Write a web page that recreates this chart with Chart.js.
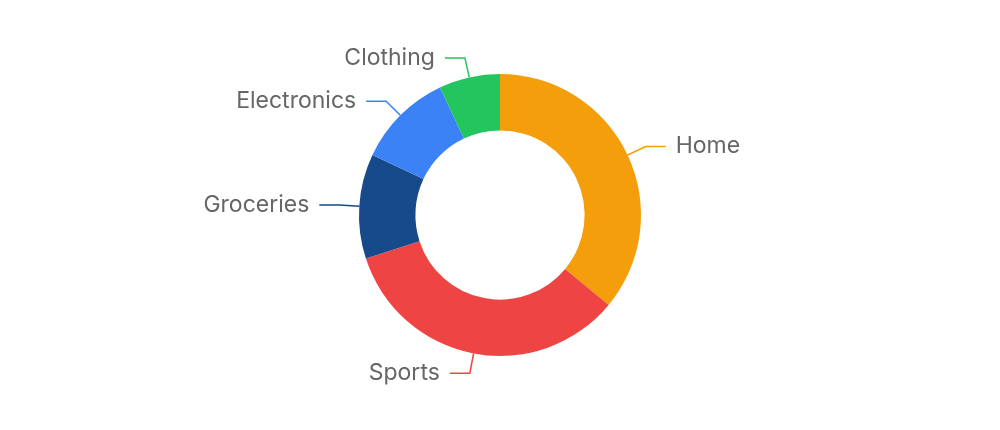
<!DOCTYPE html>
<html>
<head>
<meta charset="utf-8">
<script src="https://cdn.jsdelivr.net/npm/chart.js@4"></script>
<style>
html,body{margin:0;padding:0;background:#fff;}
#wrap{width:1000px;height:430px;position:relative;}
</style>
</head>
<body>
<div id="wrap"><canvas id="c"></canvas></div>
<script>
const categories = ["Home", "Sports", "Groceries", "Electronics", "Clothing"];
const values = [36, 34, 12, 11, 7];
const colors = ["#f59e0b", "#ef4444", "#164a8a", "#3b82f6", "#22c55e"];

const leaderPlugin = {
  id: 'leaders',
  afterDatasetsDraw(chart) {
    const ctx = chart.ctx;
    const meta = chart.getDatasetMeta(0);
    ctx.save();
    meta.data.forEach((arc, i) => {
      const p = arc.getProps(['x','y','startAngle','endAngle','outerRadius'], true);
      const mid = (p.startAngle + p.endAngle) / 2;
      const cos = Math.cos(mid), sin = Math.sin(mid);
      const x0 = p.x + cos * p.outerRadius, y0 = p.y + sin * p.outerRadius;
      const x1 = p.x + cos * (p.outerRadius + 20), y1 = p.y + sin * (p.outerRadius + 20);
      const right = cos >= 0;
      const x2 = x1 + (right ? 20 : -20);
      ctx.strokeStyle = colors[i];
      ctx.lineWidth = 1.5;
      ctx.beginPath();
      ctx.moveTo(x0, y0);
      ctx.lineTo(x1, y1);
      ctx.lineTo(x2, y1);
      ctx.stroke();
      ctx.fillStyle = '#666666';
      ctx.font = '23px Inter';
      ctx.textBaseline = 'middle';
      ctx.textAlign = right ? 'left' : 'right';
      ctx.fillText(categories[i], x2 + (right ? 10 : -10), y1);
    });
    ctx.restore();
  }
};

new Chart(document.getElementById('c'), {
  type: 'doughnut',
  data: {
    labels: categories,
    datasets: [{
      data: values,
      backgroundColor: colors,
      borderWidth: 0,
      hoverOffset: 0
    }]
  },
  options: {
    responsive: true,
    maintainAspectRatio: false,
    animation: false,
    cutout: '60%',
    layout: { padding: 74 },
    plugins: {
      legend: { display: false },
      tooltip: { enabled: false }
    }
  },
  plugins: [leaderPlugin]
});
</script>
</body>
</html>
